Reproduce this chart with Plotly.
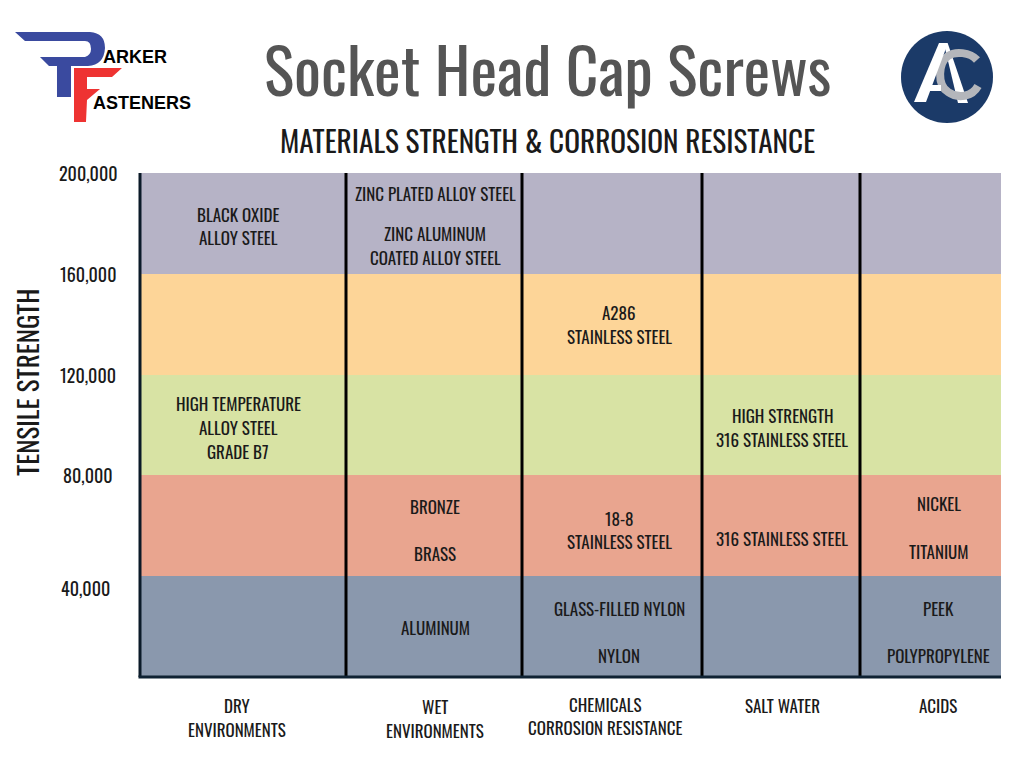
import numpy as np
import plotly.graph_objects as go

# -----------------------------
# DATA
# -----------------------------
columns = ["DRY", "WET", "CHEMICALS", "SALT WATER", "ACIDS"]
column_widths = [206, 176, 180, 158, 141]

band_tops = [40000, 80000, 120000, 160000, 200000]
band_colors = ["#8A98AD", "#E9A58F", "#D8E3A4", "#FDD598", "#B6B3C6"]
tick_labels = ["40,000", "80,000", "120,000", "160,000", "200,000"]

# column index, tensile strength, text
materials = [
    (0, 183300, "BLACK OXIDE"), (0, 174200, "ALLOY STEEL"),
    (0, 108300, "HIGH TEMPERATURE"), (0, 98800, "ALLOY STEEL"), (0, 88900, "GRADE B7"),
    (1, 191300, "ZINC PLATED ALLOY STEEL"), (1, 175400, "ZINC ALUMINUM"),
    (1, 165900, "COATED ALLOY STEEL"), (1, 67100, "BRONZE"), (1, 48800, "BRASS"),
    (1, 19400, "ALUMINUM"),
    (2, 144400, "A286"), (2, 134900, "STAINLESS STEEL"), (2, 62700, "18-8"),
    (2, 53200, "STAINLESS STEEL"), (2, 26600, "GLASS-FILLED NYLON"), (2, 8300, "NYLON"),
    (3, 103200, "HIGH STRENGTH"), (3, 94000, "316 STAINLESS STEEL"),
    (3, 54400, "316 STAINLESS STEEL"),
    (4, 68300, "NICKEL"), (4, 49600, "TITANIUM"), (4, 26600, "PEEK"), (4, 8300, "POLYPROPYLENE"),
]
# text centre inside each column, as an offset from the column middle
label_offsets = [-5, 1, 7, 1, 8]

# x pixel, y pixel, text
footer = [
    (237, 705, "DRY"), (237, 729, "ENVIRONMENTS"),
    (435, 706, "WET"), (435, 730, "ENVIRONMENTS"),
    (605, 704, "CHEMICALS"), (605, 727, "CORROSION RESISTANCE"),
    (782, 705, "SALT WATER"), (938, 705, "ACIDS"),
]

FONT = "Oswald"
W, H = 1024, 768
PLOT_L, PLOT_R, PLOT_T, PLOT_B = 140, 1001, 173, 677


def px(x):
    return x / W


def py(y):
    return 1 - y / H


def path_px(d):
    # path written in page pixels, turned into paper coordinates
    out = []
    for tok in d.split():
        if "," in tok:
            cmd = tok[0] if tok[0].isalpha() else ""
            a, b = tok.lstrip("MLQC").split(",")
            out.append(f"{cmd}{px(float(a)):.5f},{py(float(b)):.5f}")
        else:
            out.append(tok)
    return " ".join(out)


edges = np.cumsum([0] + column_widths)
centers = (edges[:-1] + edges[1:]) / 2

# -----------------------------
# BANDS
# -----------------------------
fig = go.Figure()
prev = 0
for top, color in zip(band_tops, band_colors):
    fig.add_trace(go.Bar(
        x=centers,
        y=[top - prev] * len(columns),
        width=column_widths,
        marker=dict(color=color, line=dict(width=0)),
        showlegend=False,
        hoverinfo="skip",
    ))
    prev = top

# -----------------------------
# COLUMN LINES
# -----------------------------
shapes = []
for e in edges[1:-1]:
    shapes.append(dict(type="line", xref="x", yref="y", x0=e, x1=e, y0=0, y1=200000,
                       line=dict(color="black", width=3)))
# paper refs here, the plot area would clip half of these two
shapes.append(dict(type="line", xref="paper", yref="paper", x0=px(PLOT_L), x1=px(PLOT_L),
                   y0=py(PLOT_B), y1=py(PLOT_T), line=dict(color="#0b1a28", width=3)))
shapes.append(dict(type="line", xref="paper", yref="paper", x0=px(PLOT_L - 1.5), x1=px(PLOT_R),
                   y0=py(PLOT_B), y1=py(PLOT_B), line=dict(color="#0f2233", width=3)))

# -----------------------------
# LOGOS
# -----------------------------
logo_paths = [
    ("M15,32 L90,32 Q105,33 105,48 Q104,65 88,66 L71,66 L71,97 L57,97 L57,66 L49,66 L40,57 "
     "L85,57 Q91,55 91,49 Q91,41 85,41 L25,41 Z", "#3A4A9F"),
    ("M74,68 L122,68 L112,77 L87,77 L87,89 L100,89 L87,100 L86,122 L74,122 Z", "#EE3332"),
]
for d, color in logo_paths:
    shapes.append(dict(type="path", xref="paper", yref="paper", path=path_px(d),
                       fillcolor=color, line=dict(width=0)))

shapes.append(dict(type="circle", xref="paper", yref="paper",
                   x0=px(901), x1=px(993), y0=py(123), y1=py(31),
                   fillcolor="#1B3A68", line=dict(width=0)))
shapes.append(dict(type="path", xref="paper", yref="paper",
                   path=path_px("M944,44 L948,44 L968,103 L958,103 Z"),
                   fillcolor="white", line=dict(width=0)))
shapes.append(dict(type="path", xref="paper", yref="paper",
                   path=path_px("M977,60 C970,52 955,51 948,56 C938,63 937,85 948,92 C958,99 972,97 978,86"),
                   fillcolor="rgba(0,0,0,0)", line=dict(color="#B4B6BB", width=8)))
shapes.append(dict(type="path", xref="paper", yref="paper",
                   path=path_px("M939,43 L948,43 L926,102 L914,102 Z"),
                   fillcolor="white", line=dict(width=0)))
shapes.append(dict(type="path", xref="paper", yref="paper",
                   path=path_px("M928,85 L941,85 L941,91 L926,91 Z"),
                   fillcolor="white", line=dict(width=0)))

# -----------------------------
# TEXT
# -----------------------------
ann = []


def page_text(x, y, text, size, color="#1a1a1a", family=FONT, angle=0, weight=None):
    font = dict(family=family, size=size, color=color)
    if weight:
        font["weight"] = weight
    ann.append(dict(xref="paper", yref="paper", x=px(x), y=py(y), text=text, showarrow=False,
                    xanchor="center", yanchor="middle", textangle=angle, font=font))


page_text(547, 67, "Socket Head Cap Screws", 63.5, color="#555555")
page_text(547, 140, "MATERIALS STRENGTH &amp; CORROSION RESISTANCE", 29.3)
page_text(27, 383, "TENSILE STRENGTH", 27, angle=-90)
page_text(135, 57, "ARKER", 18, color="black", family="Liberation Sans", weight="bold")
page_text(142, 103, "ASTENERS", 18, color="black", family="Liberation Sans", weight="bold")

for value, label in zip(band_tops, tick_labels):
    ann.append(dict(xref="paper", yref="y", x=px(85 if value == 40000 else 88), y=value, text=label,
                    showarrow=False, xanchor="center", yanchor="middle",
                    yshift=-12 if value == 40000 else 0,
                    font=dict(family=FONT, size=18, color="#1a1a1a")))

for col, value, text in materials:
    ann.append(dict(xref="x", yref="y", x=centers[col] + label_offsets[col], y=value, text=text,
                    showarrow=False, xanchor="center", yanchor="middle", yshift=1,
                    font=dict(family=FONT, size=17, color="#1a1a1a")))

for x, y, text in footer:
    page_text(x, y, text, 17)

# -----------------------------
# LAYOUT
# -----------------------------
fig.update_layout(
    width=W,
    height=H,
    margin=dict(l=0, r=0, t=0, b=0),
    paper_bgcolor="white",
    plot_bgcolor="white",
    barmode="stack",
    bargap=0,
    shapes=shapes,
    annotations=ann,
    xaxis=dict(domain=[px(PLOT_L), px(PLOT_R)], range=[0, edges[-1]], visible=False),
    yaxis=dict(domain=[py(PLOT_B), py(PLOT_T)], range=[0, 200000], visible=False),
)

fig.write_html("out.html", post_script="document.body.style.margin='0';",
               config=dict(displayModeBar=False))
